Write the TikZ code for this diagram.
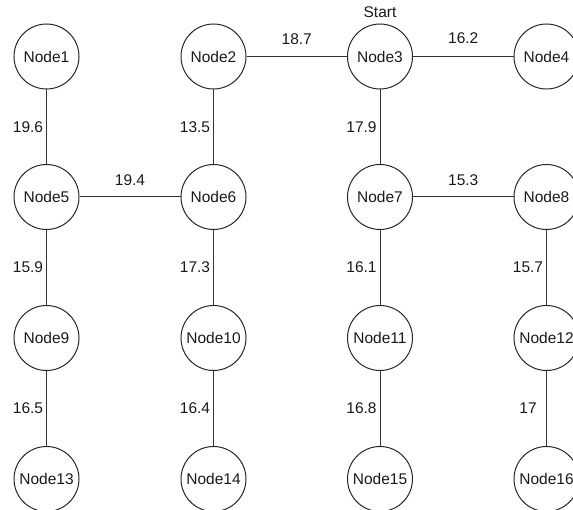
\documentclass[tikz,border=0pt]{standalone}
\usepackage{fontspec}
\setmainfont{Liberation Sans}
\begin{document}
\begin{tikzpicture}[x=1pt,y=-1pt,
  vtx/.style={circle,draw=black!85,line width=1pt,minimum size=65pt,inner sep=0pt,font=\fontsize{15.5}{18}\selectfont,text=black!90},
  edge/.style={draw=black!80,line width=1pt},
  wlab/.style={font=\fontsize{15.5}{18}\selectfont,text=black!90,inner sep=0pt}]
\useasboundingbox (0,0) rectangle (573,510);
\foreach \n/\c/\r in {1/46.5/56.5,2/213.5/56.5,3/380/56.5,4/546.5/56.5,
  5/46.5/197,6/213.5/197,7/380/197,8/546.5/197,
  9/46.5/338,10/213.5/338,11/380/338,12/546.5/338,
  13/46.5/479,14/213.5/479,15/380/479,16/546.5/479}
  \node[vtx] (n\n) at (\c,\r) {Node\n};
\node[wlab] (start) at (380,12) {Start};
% horizontal edges
\draw[edge] (n2) -- node[wlab,yshift=17pt]{18.7} (n3);
\draw[edge] (n3) -- node[wlab,yshift=18pt]{16.2} (n4);
\draw[edge] (n5) -- node[wlab,yshift=17pt]{19.4} (n6);
\draw[edge] (n7) -- node[wlab,yshift=17pt]{15.3} (n8);
% vertical edges
\draw[edge] (n1) -- node[wlab,xshift=-18.5pt]{19.6} (n5);
\draw[edge] (n2) -- node[wlab,xshift=-18.5pt]{13.5} (n6);
\draw[edge] (n3) -- node[wlab,xshift=-18.5pt]{17.9} (n7);
\draw[edge] (n5) -- node[wlab,xshift=-18.5pt]{15.9} (n9);
\draw[edge] (n6) -- node[wlab,xshift=-18.5pt]{17.3} (n10);
\draw[edge] (n7) -- node[wlab,xshift=-18.5pt]{16.1} (n11);
\draw[edge] (n8) -- node[wlab,xshift=-18.5pt]{15.7} (n12);
\draw[edge] (n9) -- node[wlab,xshift=-18.5pt]{16.5} (n13);
\draw[edge] (n10) -- node[wlab,xshift=-18.5pt]{16.4} (n14);
\draw[edge] (n11) -- node[wlab,xshift=-18.5pt]{16.8} (n15);
\draw[edge] (n12) -- node[wlab,xshift=-18.5pt]{17} (n16);
\end{tikzpicture}
\end{document}
